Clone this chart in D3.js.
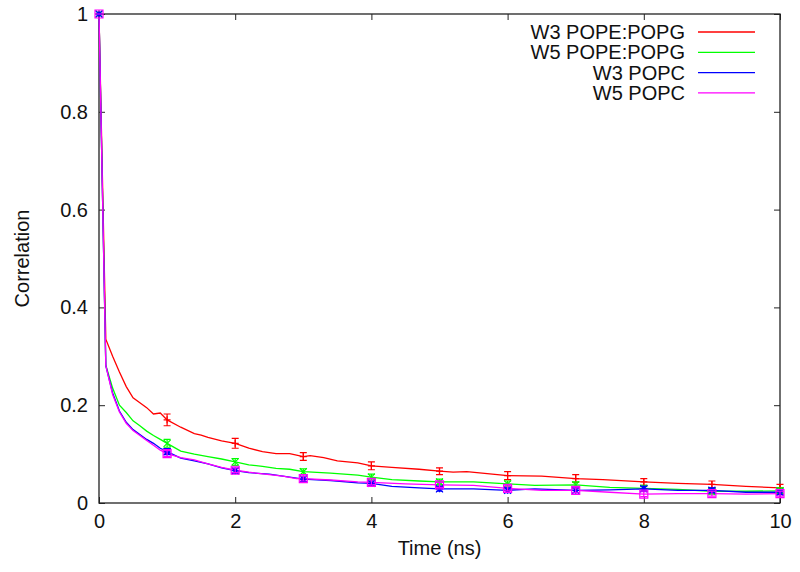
<!DOCTYPE html>
<html>
<head>
<meta charset="utf-8">
<script src="https://cdn.jsdelivr.net/npm/d3@7"></script>
<style>
  body { margin: 0; background: #fff; }
  text { font-family: "Liberation Sans", Arial, sans-serif; }
</style>
</head>
<body>
<svg id="chart" width="800" height="572"></svg>
<script>
// series: time (ns) and correlation
var w3PopePopgT = [0, 0.1, 0.2, 0.3, 0.4, 0.5, 0.6, 0.7, 0.8, 0.9, 1.0, 1.2, 1.4, 1.5, 1.6, 1.8, 2.0, 2.2, 2.4, 2.6, 2.8, 3.0, 3.1, 3.3, 3.5, 3.8, 4.0, 4.3, 4.7, 5.0, 5.2, 5.4, 5.7, 6.0, 6.5, 7.0, 7.4, 8.0, 8.5, 9.0, 9.5, 10];
var w3PopePopgC = [1, 0.335, 0.300, 0.268, 0.238, 0.215, 0.205, 0.195, 0.182, 0.184, 0.170, 0.155, 0.142, 0.139, 0.134, 0.127, 0.122, 0.112, 0.105, 0.101, 0.101, 0.095, 0.097, 0.093, 0.086, 0.082, 0.076, 0.073, 0.069, 0.065, 0.063, 0.064, 0.060, 0.056, 0.055, 0.050, 0.048, 0.043, 0.040, 0.038, 0.034, 0.031];

var w5PopePopgT = [0, 0.1, 0.2, 0.3, 0.4, 0.5, 0.6, 0.7, 0.8, 0.9, 1.0, 1.2, 1.4, 1.6, 1.8, 2.0, 2.2, 2.4, 2.6, 2.8, 3.0, 3.4, 3.8, 4.0, 4.3, 4.7, 5.0, 5.5, 6.0, 6.4, 7.0, 7.5, 8.0, 8.5, 9.0, 9.5, 10];
var w5PopePopgC = [1, 0.282, 0.235, 0.200, 0.185, 0.168, 0.158, 0.147, 0.138, 0.130, 0.122, 0.106, 0.100, 0.095, 0.090, 0.084, 0.078, 0.075, 0.071, 0.069, 0.064, 0.061, 0.057, 0.053, 0.048, 0.045, 0.043, 0.043, 0.039, 0.036, 0.037, 0.032, 0.030, 0.028, 0.024, 0.024, 0.025];

var w3PopcT = [0, 0.1, 0.2, 0.3, 0.4, 0.5, 0.6, 0.7, 0.8, 0.9, 1.0, 1.2, 1.4, 1.6, 1.8, 2.0, 2.2, 2.5, 2.8, 3.0, 3.4, 3.8, 4.0, 4.3, 4.7, 5.0, 5.5, 6.0, 6.4, 7.0, 7.5, 8.0, 8.5, 9.0, 9.5, 10];
var w3PopcC = [1, 0.281, 0.225, 0.188, 0.165, 0.150, 0.140, 0.130, 0.122, 0.112, 0.105, 0.092, 0.086, 0.080, 0.072, 0.066, 0.062, 0.059, 0.053, 0.049, 0.046, 0.041, 0.040, 0.034, 0.031, 0.029, 0.029, 0.026, 0.029, 0.026, 0.027, 0.029, 0.026, 0.026, 0.022, 0.022];

var w5PopcT = [0, 0.1, 0.2, 0.3, 0.4, 0.5, 0.6, 0.7, 0.8, 0.9, 1.0, 1.2, 1.4, 1.6, 1.8, 2.0, 2.2, 2.5, 2.7, 2.9, 3.0, 3.4, 3.8, 4.0, 4.5, 5.0, 5.5, 6.0, 6.5, 7.0, 7.5, 8.0, 8.5, 9.0, 9.5, 10];
var w5PopcC = [1, 0.281, 0.222, 0.186, 0.163, 0.148, 0.138, 0.128, 0.118, 0.108, 0.101, 0.093, 0.088, 0.080, 0.073, 0.067, 0.063, 0.058, 0.055, 0.050, 0.050, 0.047, 0.043, 0.042, 0.039, 0.037, 0.036, 0.030, 0.026, 0.026, 0.022, 0.018, 0.019, 0.019, 0.018, 0.019];

// error bars at whole nanoseconds
var errT = [0, 1, 2, 3, 4, 5, 6, 7, 8, 9, 10];
var w3PopePopgErr = [0, 0.012, 0.010, 0.008, 0.008, 0.007, 0.008, 0.008, 0.007, 0.007, 0.007];
var w5PopePopgErr = [0, 0.008, 0.007, 0.006, 0.006, 0.006, 0.006, 0.006, 0.006, 0.006, 0.006];
var w3PopcErr = [0, 0.006, 0.005, 0.005, 0.005, 0.005, 0.005, 0.005, 0.005, 0.005, 0.005];
var w5PopcErr = [0, 0.006, 0.005, 0.005, 0.005, 0.005, 0.005, 0.005, 0.005, 0.005, 0.005];

var seriesNames = ["W3 POPE:POPG", "W5 POPE:POPG", "W3 POPC", "W5 POPC"];
var xTicks = [0, 2, 4, 6, 8, 10];
var yTicks = [0, 0.2, 0.4, 0.6, 0.8, 1];

var colors = ["#ff0000", "#00ff00", "#0000ff", "#ff00ff"];
var markers = ["plus", "cross", "star", "box"];

var margin = {l: 99, r: 20, t: 14, b: 69};
var fontSize = "20px";
var svg = d3.select("#chart");
var W = 800 - margin.l - margin.r, H = 572 - margin.t - margin.b;
var plot = svg.append("g").attr("transform", "translate(" + margin.l + "," + margin.t + ")");

var x = d3.scaleLinear().domain([0, 10]).range([0, W]);
var y = d3.scaleLinear().domain([0, 1]).range([H, 0]);

var series = [
  {t: w3PopePopgT, c: w3PopePopgC, e: w3PopePopgErr},
  {t: w5PopePopgT, c: w5PopePopgC, e: w5PopePopgErr},
  {t: w3PopcT, c: w3PopcC, e: w3PopcErr},
  {t: w5PopcT, c: w5PopcC, e: w5PopcErr}
].map(function(s, i) {
  var pts = s.t.map(function(t, j) { return {t: t, c: s.c[j]}; });
  // errorbar centre taken from the line at that time
  var bars = errT.map(function(t, j) {
    var k = s.t.indexOf(t);
    return {t: t, c: s.c[k], e: s.e[j]};
  });
  return {name: seriesNames[i], color: colors[i], marker: markers[i], pts: pts, bars: bars};
});

// axes, gnuplot style: ticks inward on all four sides
var tickLen = 6;
function styleAxis(g) {
  g.select(".domain").remove();
  g.selectAll(".tick line").attr("stroke", "#222").attr("stroke-width", 1);
  g.selectAll(".tick text").attr("fill", "#111").style("font-size", fontSize);
}
plot.append("g").attr("transform", "translate(0," + H + ")")
  .call(d3.axisBottom(x).tickValues(xTicks).tickSize(-tickLen).tickPadding(11).tickFormat(d3.format("d")))
  .call(styleAxis);
plot.append("g")
  .call(d3.axisTop(x).tickValues(xTicks).tickSize(-tickLen).tickFormat(""))
  .call(styleAxis);
plot.append("g")
  .call(d3.axisLeft(y).tickValues(yTicks).tickSize(-tickLen).tickPadding(11).tickFormat(function(d) { return d === 0 || d === 1 ? d : d3.format(".1f")(d); }))
  .call(styleAxis);
plot.append("g").attr("transform", "translate(" + W + ",0)")
  .call(d3.axisRight(y).tickValues(yTicks).tickSize(-tickLen).tickFormat(""))
  .call(styleAxis);

plot.append("rect").attr("width", W).attr("height", H)
  .attr("fill", "none").attr("stroke", "#222").attr("stroke-width", 1.3);

// lines
var line = d3.line().x(function(d) { return x(d.t); }).y(function(d) { return y(d.c); });
plot.selectAll(".series").data(series).enter()
  .append("path").attr("class", "series")
  .attr("d", function(d) { return line(d.pts); })
  .attr("fill", "none").attr("stroke", function(d) { return d.color; })
  .attr("stroke-width", 1.3);

// error bars and point markers
function markerPath(type, r) {
  var p = d3.path();
  if (type === "plus" || type === "star") {
    p.moveTo(-r, 0); p.lineTo(r, 0); p.moveTo(0, -r); p.lineTo(0, r);
  }
  if (type === "cross" || type === "star") {
    p.moveTo(-r, -r); p.lineTo(r, r); p.moveTo(-r, r); p.lineTo(r, -r);
  }
  if (type === "box") {
    p.rect(-r, -r, 2 * r, 2 * r);
  }
  return p.toString();
}
var capW = 3.5;
series.forEach(function(s) {
  var g = plot.append("g").attr("stroke", s.color).attr("fill", "none").attr("stroke-width", 1.2);
  var b = g.selectAll(".bar").data(s.bars).enter().append("g")
    .attr("transform", function(d) { return "translate(" + x(d.t) + ",0)"; });
  b.append("path").attr("d", function(d) {
    var y0 = y(d.c - d.e), y1 = y(d.c + d.e);
    return "M0," + y0 + "V" + y1 + "M" + (-capW) + "," + y0 + "h" + (2 * capW) + "M" + (-capW) + "," + y1 + "h" + (2 * capW);
  });
  b.append("path").attr("transform", function(d) { return "translate(0," + y(d.c) + ")"; })
    .attr("d", markerPath(s.marker, s.marker === "box" ? 4 : 3.5));
});

// legend, top right inside the frame
var leg = plot.selectAll(".leg").data(series).enter().append("g")
  .attr("transform", function(d, i) { return "translate(0," + (18 + i * 20.3) + ")"; });
leg.append("text").attr("x", 586).attr("dy", "0.35em").attr("text-anchor", "end")
  .style("font-size", fontSize).attr("fill", "#111").text(function(d) { return d.name; });
leg.append("line").attr("x1", 599).attr("x2", 656)
  .attr("stroke", function(d) { return d.color; }).attr("stroke-width", 1.3);

// axis titles
svg.append("text").attr("x", margin.l + W / 2).attr("y", 555).attr("text-anchor", "middle")
  .style("font-size", fontSize).attr("fill", "#111").text("Time (ns)");
svg.append("text").attr("transform", "translate(29," + (margin.t + H / 2) + ") rotate(-90)")
  .attr("text-anchor", "middle").style("font-size", fontSize).attr("fill", "#111").text("Correlation");
</script>
</body>
</html>
